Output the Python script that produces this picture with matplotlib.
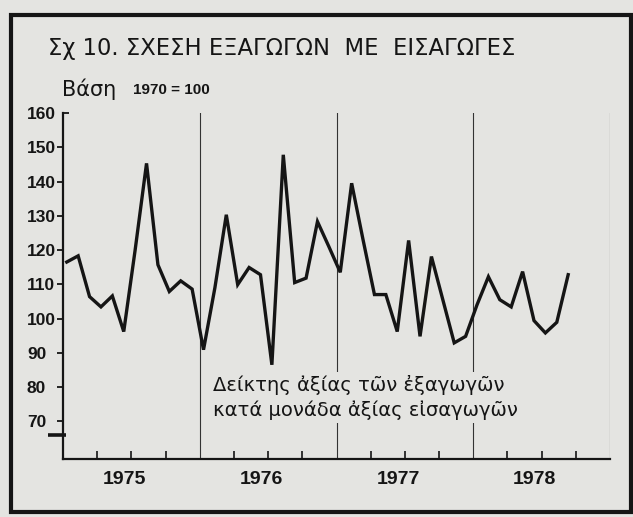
import numpy as np
import matplotlib
matplotlib.use("Agg")
import matplotlib.pyplot as plt
import matplotlib.lines as mlines
from matplotlib.patches import Rectangle
import matplotlib.transforms as mtransforms

# monthly index values (1970 = 100)
vals_1975 = [116.5, 118.3, 106.4, 103.4, 106.6, 96.2, 120.0, 145.3, 115.7, 107.9, 111.0, 108.6]
vals_1976 = [90.9, 109.0, 130.3, 109.9, 114.9, 112.8, 86.5, 147.8, 110.5, 111.8, 128.3, 121.0]
vals_1977 = [113.5, 139.5, 123.0, 107.0, 107.0, 96.2, 122.8, 94.8, 118.1, 105.5, 92.9, 94.8]
vals_1978 = [104.0, 112.2, 105.5, 103.4, 113.7, 99.4, 95.8, 98.9, 112.8]
years = ["1975", "1976", "1977", "1978"]
y_ticks = [70, 80, 90, 100, 110, 120, 130, 140, 150, 160]

title = "Σχ 10. ΣΧΕΣΗ ΕΞΑΓΩΓΩΝ  ΜΕ  ΕΙΣΑΓΩΓΕΣ"
note = "Δείκτης ἀξίας τῶν ἐξαγωγῶν\nκατά μονάδα ἀξίας εἰσαγωγῶν"

bg = "#e4e4e1"
ink = "#151515"

values = vals_1975 + vals_1976 + vals_1977 + vals_1978
months = np.arange(len(values)) + 0.33

W, H = 633, 517
fig = plt.figure(figsize=(W / 100, H / 100), dpi=100, facecolor=bg)

# axes box in pixels: x 63..610, y 113..459
ax = fig.add_axes([63 / W, 1 - 459 / H, 547 / W, 346 / H])
ax.set_facecolor(bg)
ax.set_xlim(0, 48)
ax.set_ylim(59, 160)

ax.plot(months, values, color=ink, lw=2.4, solid_joinstyle="miter")

# year separators
for x in [12, 24, 36, 48]:
    ax.axvline(x, color="#333333", lw=0.8, zorder=1)

for s in ["top", "right"]:
    ax.spines[s].set_visible(False)
for s in ["left", "bottom"]:
    ax.spines[s].set_color(ink)
    ax.spines[s].set_linewidth(1.6)

# y ticks, labels left aligned like the print
ax.set_yticks(y_ticks)
ax.set_yticklabels([str(v) for v in y_ticks], fontfamily="Liberation Sans",
                   fontweight="bold", fontsize=12.5, color=ink, ha="left")
ax.tick_params(axis="y", direction="out", length=4, width=1.3, pad=22, colors=ink)
top_tick = ax.yaxis.get_major_ticks()[-1]
top_tick.tick1line.set_marker(mlines.TICKRIGHT)

# quarter ticks on x axis, year labels below
ax.set_xticks([q for q in range(3, 48, 3) if q % 12 != 0])
ax.set_xticklabels([])
ax.tick_params(axis="x", direction="in", length=6, width=1.2, colors=ink)
for i, yr in enumerate(years):
    ax.text(i * 12 + 5.4, -0.06, yr, transform=ax.get_xaxis_transform(),
            ha="center", va="center", fontfamily="Liberation Sans",
            fontweight="bold", fontsize=14, color=ink)

# axis break mark
trans = mtransforms.blended_transform_factory(ax.transAxes, ax.transData)
ax.plot([-0.027, 0.005], [66.1, 66.1], transform=trans, color=ink, lw=2.6,
        clip_on=False, solid_capstyle="butt")

ax.text(0.274, 0.178, note, transform=ax.transAxes, ha="left", va="center",
        fontfamily="DejaVu Sans", fontsize=14, color=ink, linespacing=1.35,
        bbox=dict(facecolor=bg, edgecolor="none", pad=2), zorder=5)

fig.text(48 / W, 1 - 48 / H, title, ha="left", va="center",
         fontfamily="DejaVu Sans", fontsize=16.3, color=ink)
fig.text(62 / W, 1 - 89 / H, "Βάση", ha="left", va="center",
         fontfamily="DejaVu Sans", fontsize=15, color=ink)
fig.text(133 / W, 1 - 90 / H, "1970 = 100", ha="left", va="center",
         fontfamily="Liberation Sans", fontweight="bold", fontsize=11, color=ink)

# outer printed frame
fig.add_artist(Rectangle((11 / W, 1 - 512 / H), 620 / W, 497 / H,
                         transform=fig.transFigure, fill=False,
                         edgecolor=ink, lw=3))

fig.savefig("out.png", dpi=100, facecolor=bg)
